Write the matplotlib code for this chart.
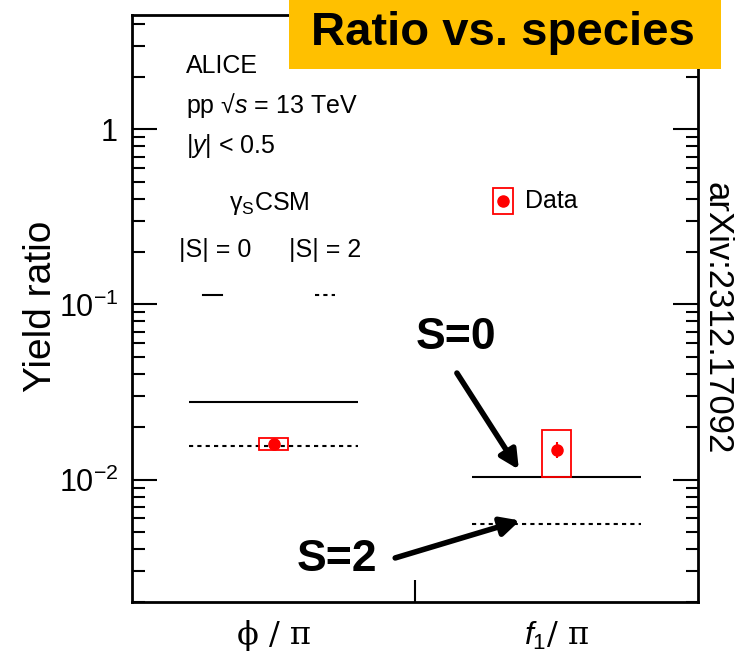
import numpy as np
import matplotlib
matplotlib.use("Agg")
import matplotlib.pyplot as plt
from matplotlib.patches import Rectangle
from matplotlib.ticker import FixedLocator, FixedFormatter, NullFormatter

# ALICE yield ratios (pp 13 TeV) vs gamma_S CSM predictions
species = ["ϕ / π", "$f_{1}$/ π"]
csm_s0 = [0.0278, 0.0104]      # |S| = 0 (solid)
csm_s2 = [0.0156, 0.0056]      # |S| = 2 (dotted)
data_val = [0.0160, 0.0148]
data_stat = [0.0003, 0.0016]
data_sys = [0.0012, 0.0045]

ytick_vals = [0.01, 0.1, 1.0]
ytick_labels = ["$10^{-2}$", "$10^{-1}$", "1"]

plt.rcParams["font.family"] = ["Liberation Sans", "DejaVu Sans"]
plt.rcParams["mathtext.fontset"] = "custom"
plt.rcParams["mathtext.rm"] = "Liberation Sans"
plt.rcParams["mathtext.it"] = "Liberation Sans:italic"
plt.rcParams["mathtext.bf"] = "Liberation Sans:bold"

fig = plt.figure(figsize=(7.35, 6.61), dpi=100)
ax = fig.add_axes([0.1796, 0.0893, 0.9497 - 0.1796, 0.9773 - 0.0893])

x = np.arange(len(species))
# model lines
ax.hlines(csm_s0, x + 0.2, x + 0.8, colors="black", lw=1.5)
ax.hlines(csm_s2, x + 0.2, x + 0.8, colors="black", lw=1.5, linestyles=(0, (2, 2)))

# data: sys boxes + stat bars
for i in range(len(species)):
    ax.add_patch(Rectangle((x[i] + 0.45, data_val[i] - data_sys[i]), 0.1, 2 * data_sys[i],
                           fill=False, edgecolor="red", lw=1.3, zorder=3))
ax.errorbar(x + 0.5, data_val, yerr=data_stat, fmt="o", color="red", ms=8,
            elinewidth=1.5, capsize=0, zorder=4)

ax.set_yscale("log")
ax.set_ylim(0.002, 4.5)
ax.set_xlim(0, len(species))

ax.yaxis.set_major_locator(FixedLocator(ytick_vals))
ax.yaxis.set_major_formatter(FixedFormatter(ytick_labels))
ax.yaxis.set_minor_formatter(NullFormatter())
ax.tick_params(axis="y", which="both", direction="in", left=True, right=True, labelsize=22, pad=10)
ax.tick_params(axis="y", which="major", length=18, width=1.5)
ax.tick_params(axis="y", which="minor", length=9, width=1.5)

ax.set_xticks([1])
ax.set_xticklabels([""])
ax.set_xticks(x + 0.5, minor=True)
ax.set_xticklabels(species, minor=True, fontsize=23, family=["DejaVu Serif", "Liberation Serif"])
ax.tick_params(axis="x", which="major", direction="in", length=16, width=1.5, top=True)
ax.tick_params(axis="x", which="minor", length=0, pad=13)
for s in ax.spines.values():
    s.set_linewidth(2)

# header texts
ax.text(0.095, 0.901, "ALICE", transform=ax.transAxes, fontsize=18, va="baseline")
ax.text(0.095, 0.833, "pp √$s$ = 13 TeV", transform=ax.transAxes, fontsize=18, va="baseline")
ax.text(0.095, 0.765, "|$y$| < 0.5", transform=ax.transAxes, fontsize=18, va="baseline")
ax.text(0.243, 0.668, r"γ$_{\mathrm{S}}$CSM", transform=ax.transAxes, fontsize=18, va="baseline", ha="center")
ax.text(0.147, 0.588, "|S| = 0", transform=ax.transAxes, fontsize=18, va="baseline", ha="center")
ax.text(0.341, 0.588, "|S| = 2", transform=ax.transAxes, fontsize=18, va="baseline", ha="center")
ax.plot([0.125, 0.159], [0.523, 0.523], color="black", lw=1.5, transform=ax.transAxes)
ax.plot([0.323, 0.359], [0.523, 0.523], color="black", lw=1.5, ls=(0, (2, 2)), transform=ax.transAxes)

# data legend
ax.add_patch(Rectangle((0.638, 0.661), 0.035, 0.044, fill=False, edgecolor="red", lw=1.3,
                       transform=ax.transAxes))
ax.plot([0.655], [0.683], "o", color="red", ms=8, transform=ax.transAxes)
ax.text(0.694, 0.683, "Data", transform=ax.transAxes, fontsize=18, va="center")

# arrows
ax.text(0.572, 0.451, "S=0", transform=ax.transAxes, fontsize=32, fontweight="bold", ha="center", va="center")
ax.text(0.362, 0.0716, "S=2", transform=ax.transAxes, fontsize=32, fontweight="bold", ha="center", va="center")
arrow = dict(arrowstyle="-|>", lw=4, mutation_scale=28, color="black", shrinkA=0, shrinkB=0)
ax.annotate("", xy=(1.367, 0.0114), xycoords="data", xytext=(0.574, 0.390), textcoords="axes fraction",
            arrowprops=arrow)
ax.annotate("", xy=(1.371, 0.00584), xycoords="data", xytext=(0.465, 0.075), textcoords="axes fraction",
            arrowprops=arrow)

fig.text(0.056, 1 - 306 / 661, "Yield ratio", rotation=90, fontsize=28, ha="center", va="center")
fig.text(717 / 735, 1 - 318 / 661, "arXiv:2312.17092", rotation=270, fontsize=25, ha="center", va="center")

# title banner
fig.add_artist(Rectangle((289 / 735, 1 - 69 / 661), (721 - 289) / 735, 69 / 661,
                         transform=fig.transFigure, facecolor="#FFC000", edgecolor="none", zorder=5))
fig.text(503 / 735, 1 - 33 / 661, "Ratio vs. species", fontsize=34, fontweight="bold",
         ha="center", va="center", zorder=6)

fig.savefig("out.png", dpi=100)
